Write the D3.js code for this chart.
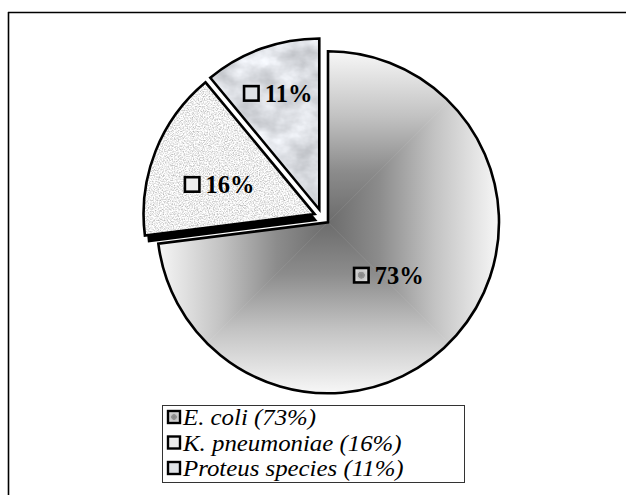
<!DOCTYPE html>
<html>
<head>
<meta charset="utf-8">
<script src="https://cdn.jsdelivr.net/npm/d3@7"></script>
<style>
  html, body { margin: 0; padding: 0; background: #fff; }
  svg { display: block; }
</style>
</head>
<body>
<svg id="chart" width="626" height="495"></svg>
<script>
// Share of isolates by organism
const species = ["E. coli", "K. pneumoniae", "Proteus species"];
const percents = [73, 16, 11];
const sliceLabels = ["73%", "16%", "11%"];
const legendLabels = ["E. coli (73%)", "K. pneumoniae (16%)", "Proteus species (11%)"];

// Layout
const W = 626, H = 495;
const cx = 322, cy = 217, R = 171, explode = 8;
const labelDist = [0.47, 0.584, 0.72];   // label distance along mid-angle, as fraction of R
const labelTurn = [0, -4.5, 0];          // small angular nudge of each label, degrees
const shadowSlices = [1];                // slices drawn with a drop shadow
const serif = "'Liberation Serif', 'Times New Roman', Times, serif";

const svg = d3.select("#chart");
const defs = svg.append("defs");

svg.append("rect").attr("width", W).attr("height", H).attr("fill", "#fff");

// Chart frame (top and left edges fall inside the page)
svg.append("line").attr("x1", 8).attr("y1", 12.5).attr("x2", W).attr("y2", 12.5)
  .attr("stroke", "#000").attr("stroke-width", 1.6);
svg.append("line").attr("x1", 8.5).attr("y1", 12).attr("x2", 8.5).attr("y2", H)
  .attr("stroke", "#000").attr("stroke-width", 1.6);

// ---- fills ----
// rectangular "from centre" gradient: four triangles, each a linear ramp outward
const gradDirs = [[0, -1], [1, 0], [0, 1], [-1, 0]];
const gradStops = [[0, "#6c6c6c"], [0.3, "#8c8c8c"], [0.62, "#c2c2c2"], [1, "#f7f7f7"]];
gradDirs.forEach((d, i) => {
  const g = defs.append("linearGradient").attr("id", "rg" + i)
    .attr("gradientUnits", "userSpaceOnUse")
    .attr("x1", 0).attr("y1", 0).attr("x2", d[0] * R).attr("y2", d[1] * R);
  gradStops.forEach(s => g.append("stop").attr("offset", s[0]).attr("stop-color", s[1]));
});

// granite speckle
const fGran = defs.append("filter").attr("id", "granite")
  .attr("x", 0).attr("y", 0).attr("width", 1).attr("height", 1)
  .attr("color-interpolation-filters", "sRGB");
fGran.append("feTurbulence").attr("type", "fractalNoise")
  .attr("baseFrequency", 0.8).attr("numOctaves", 2).attr("seed", 7);
fGran.append("feColorMatrix").attr("type", "matrix")
  .attr("values", "0.62 0 0 0 0.62  0.62 0 0 0 0.62  0.62 0 0 0 0.62  0 0 0 0 1");

// soft marble
const fMarb = defs.append("filter").attr("id", "marble")
  .attr("x", 0).attr("y", 0).attr("width", 1).attr("height", 1)
  .attr("color-interpolation-filters", "sRGB");
fMarb.append("feTurbulence").attr("type", "fractalNoise")
  .attr("baseFrequency", "0.035 0.05").attr("numOctaves", 4).attr("seed", 3);
fMarb.append("feColorMatrix").attr("type", "matrix")
  .attr("values", "0.34 0 0 0 0.69  0.34 0 0 0 0.70  0.34 0 0 0 0.72  0 0 0 0 1");

// small key swatch fills
const kg = defs.append("radialGradient").attr("id", "keyGrad");
kg.append("stop").attr("offset", 0).attr("stop-color", "#858585");
kg.append("stop").attr("offset", 0.45).attr("stop-color", "#969696");
kg.append("stop").attr("offset", 0.5).attr("stop-color", "#c4c4c4");
kg.append("stop").attr("offset", 1).attr("stop-color", "#dadada");
const keyFills = ["url(#keyGrad)", "#eeeeee", "#dfe2e6"];

// ---- pie ----
const pie = d3.pie().sort(null).value(d => d);
const arcs = pie(percents);
const arc = d3.arc().innerRadius(0).outerRadius(R);

function apexOf(a) {
  const mid = (a.startAngle + a.endAngle) / 2;
  return [cx + explode * Math.sin(mid), cy - explode * Math.cos(mid)];
}

const sliceG = svg.append("g");

// drop shadows first
arcs.forEach((a, i) => {
  if (!shadowSlices.includes(i)) return;
  const [ax, ay] = apexOf(a);
  sliceG.append("path").attr("d", arc(a))
    .attr("transform", `translate(${ax + 3},${ay + 7})`)
    .attr("fill", "#000");
});

arcs.forEach((a, i) => {
  const [ax, ay] = apexOf(a);
  const g = sliceG.append("g").attr("transform", `translate(${ax},${ay})`);
  defs.append("clipPath").attr("id", "clip" + i)
    .append("path").attr("d", arc(a));
  const body = g.append("g").attr("clip-path", `url(#clip${i})`);
  if (i === 0) {
    const tri = [
      [[0, 0], [-R, -R], [R, -R]],
      [[0, 0], [R, -R], [R, R]],
      [[0, 0], [R, R], [-R, R]],
      [[0, 0], [-R, R], [-R, -R]]
    ];
    tri.forEach((t, k) => {
      body.append("path").attr("d", "M" + t.map(p => p.join(",")).join("L") + "Z")
        .attr("fill", `url(#rg${k})`).attr("stroke", `url(#rg${k})`).attr("stroke-width", 0.6);
    });
  } else {
    body.append("rect").attr("x", -R).attr("y", -R).attr("width", 2 * R).attr("height", 2 * R)
      .attr("filter", i === 1 ? "url(#granite)" : "url(#marble)");
  }
  g.append("path").attr("d", arc(a))
    .attr("fill", "none").attr("stroke", "#000").attr("stroke-width", 2.6)
    .attr("stroke-linejoin", "miter");
});

// ---- slice labels ----
arcs.forEach((a, i) => {
  const [ax, ay] = apexOf(a);
  const mid = (a.startAngle + a.endAngle) / 2 + labelTurn[i] * Math.PI / 180;
  const px = ax + labelDist[i] * R * Math.sin(mid);
  const py = ay - labelDist[i] * R * Math.cos(mid);
  const lg = svg.append("g");
  const key = lg.append("rect").attr("width", 14.5).attr("height", 14.5)
    .attr("fill", keyFills[i]).attr("stroke", "#000").attr("stroke-width", 2.6);
  const t = lg.append("text").text(sliceLabels[i])
    .attr("font-family", serif).attr("font-weight", "bold").attr("font-size", 24.5)
    .attr("fill", "#000");
  const tw = t.node().getComputedTextLength();
  const total = 17 + 5 + tw;
  const x0 = px - total / 2;
  key.attr("x", x0 + 1.3).attr("y", py - 7.5);
  t.attr("x", x0 + 22).attr("y", py + 8.5);
});

// ---- legend ----
const lx = 162, ly = 405, lw = 302, lh = 77;
const legend = svg.append("g");
legend.append("rect").attr("x", lx + 0.5).attr("y", ly + 0.5).attr("width", lw).attr("height", lh)
  .attr("fill", "#fff").attr("stroke", "#333").attr("stroke-width", 1);
const rowY = d3.scalePoint().domain(species).range([ly + 12, ly + 63]);
species.forEach((s, i) => {
  const y = rowY(s);
  legend.append("rect").attr("x", lx + 6).attr("y", y - 6).attr("width", 12).attr("height", 12)
    .attr("fill", keyFills[i]).attr("stroke", "#000").attr("stroke-width", 2.4);
  // slightly widened italic to fit the box like the original legend
  legend.append("g").attr("transform", `translate(${lx + 21},${y + 8})scale(1.08,1)`)
    .append("text").text(legendLabels[i])
    .attr("x", 0).attr("y", 0)
    .attr("font-family", serif).attr("font-style", "italic").attr("font-size", 23)
    .attr("fill", "#000");
});
</script>
</body>
</html>
